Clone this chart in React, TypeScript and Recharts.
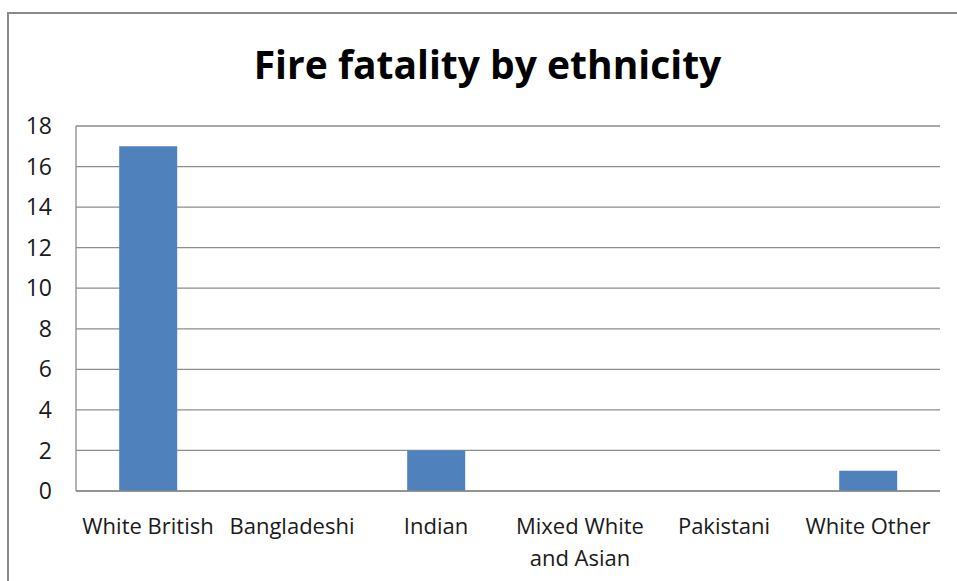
import * as React from "react";
import { Bar, BarChart, CartesianGrid, XAxis, YAxis } from "recharts";

const categories = [
  "White British",
  "Bangladeshi",
  "Indian",
  "Mixed White and Asian",
  "Pakistani",
  "White Other",
];
const fatalities = [17, 0, 2, 0, 0, 1];
const yTicks = [0, 2, 4, 6, 8, 10, 12, 14, 16, 18];

const data = categories.map((name, i) => ({ name, value: fatalities[i] }));

const FONT = "'Open Sans', 'Noto Sans', sans-serif";

// greedy word wrap so long category names break onto two lines
function wrap(label: string, maxChars: number) {
  const lines: string[] = [];
  let cur = "";
  for (const w of label.split(" ")) {
    const next = cur ? cur + " " + w : w;
    if (next.length > maxChars && cur) {
      lines.push(cur);
      cur = w;
    } else cur = next;
  }
  if (cur) lines.push(cur);
  return lines;
}

function CategoryTick(props: any) {
  const { x, y, payload } = props;
  const lines = wrap(String(payload.value), 13);
  return (
    <text x={x} y={y} textAnchor="middle" fill="#1a1a1a" fontSize={22} fontFamily={FONT}>
      {lines.map((l, i) => (
        <tspan key={i} x={x} dy={i === 0 ? "0.9em" : 32}>
          {l}
        </tspan>
      ))}
    </text>
  );
}

export default function App() {
  return (
    <div
      style={{
        position: "absolute",
        left: 0,
        top: 0,
        width: 957,
        height: 581,
        overflow: "hidden",
        background: "#fff",
      }}
    >
      <div
        style={{
          position: "absolute",
          left: 7,
          top: 12,
          width: 1000,
          height: 700,
          border: "2px solid #8a8a8a",
        }}
      />
      <div
        style={{
          position: "absolute",
          left: 0,
          width: 975,
          top: 37,
          textAlign: "center",
          fontFamily: FONT,
          fontWeight: 700,
          fontSize: 39,
          color: "#000",
        }}
      >
        Fire fatality by ethnicity
      </div>
      <div style={{ position: "absolute", left: 0, top: 0 }}>
        <BarChart
          width={957}
          height={581}
          data={data}
          margin={{ top: 126, right: 17, bottom: 0, left: 16 }}
          barCategoryGap="30%"
        >
          <CartesianGrid vertical={false} stroke="#8c8c8c" strokeWidth={1.3} />
          <XAxis
            dataKey="name"
            interval={0}
            tickLine={false}
            axisLine={{ stroke: "#8c8c8c", strokeWidth: 1.3 }}
            tick={<CategoryTick />}
            tickSize={0}
            tickMargin={23}
            height={90}
          />
          <YAxis
            domain={[0, 18]}
            ticks={yTicks}
            interval={0}
            width={60}
            tickLine={false}
            tickSize={0}
            tickMargin={24}
            axisLine={{ stroke: "#8c8c8c", strokeWidth: 1.3 }}
            tick={{ fill: "#1a1a1a", fontSize: 23, fontFamily: FONT }}
          />
          <Bar dataKey="value" fill="#4f81bd" isAnimationActive={false} />
        </BarChart>
      </div>
    </div>
  );
}
